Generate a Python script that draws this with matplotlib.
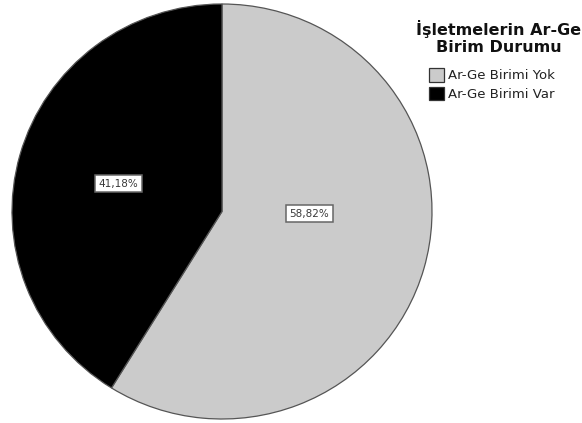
import matplotlib.pyplot as plt
from matplotlib.patches import Patch

plt.rcParams['font.family'] = ['DejaVu Sans']

categories = ['Ar-Ge Birimi Yok', 'Ar-Ge Birimi Var']
shares = [58.82, 41.18]
colors = ['#cbcbcb', '#000000']
pct_labels = ['58,82%', '41,18%']
title_lines = ['İşletmelerin Ar-Ge', 'Birim Durumu']

W, H = 582, 423
fig = plt.figure(figsize=(W / 100, H / 100), dpi=100)

# pie area in pixels: centre (222, 211.5), radii 210 x 207.5
cx, cy, rx, ry = 222, 211.5, 210, 207.5
ax = fig.add_axes([(cx - rx) / W, (H - cy - ry) / H, 2 * rx / W, 2 * ry / H])

ax.pie(shares, colors=colors, startangle=90, counterclock=False,
       wedgeprops=dict(edgecolor='#555555', linewidth=0.9))
ax.set_aspect('auto')
ax.set_xlim(-1, 1)
ax.set_ylim(-1, 1)
ax.axis('off')

# percentage boxes inside each slice
label_pos = [(0.416, -0.01), (-0.495, 0.134)]
for (x, y), txt in zip(label_pos, pct_labels):
    ax.text(x, y, txt, ha='center', va='center', fontsize=7.5, color='#3a3a3a',
            bbox=dict(boxstyle='square,pad=0.35', fc='white', ec='#666666', lw=1.1))

# legend title, two centred bold lines
for i, line in enumerate(title_lines):
    fig.text(499 / W, 1 - (35 + 17 * i) / H, line, ha='center', va='baseline',
             fontsize=11.5, fontweight='bold', color='#111111')

handles = [Patch(facecolor=c, edgecolor='#333333', linewidth=0.9) for c in colors]
fig.legend(handles, categories, loc='upper left',
           bbox_to_anchor=(429 / W, 1 - 68 / H), frameon=False,
           fontsize=9.5, handlelength=1.15, handleheight=1.2,
           handletextpad=0.3, labelspacing=0.35, borderaxespad=0,
           borderpad=0, labelcolor='#222222')

fig.savefig('out.png', dpi=100)
